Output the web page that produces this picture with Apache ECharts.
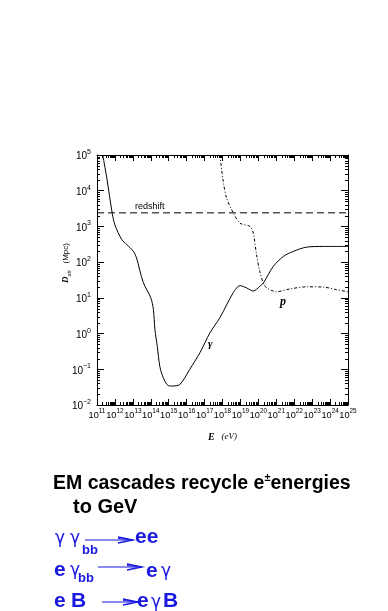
<!DOCTYPE html>
<html>
<head>
<meta charset="utf-8">
<script src="https://cdn.jsdelivr.net/npm/echarts@6/dist/echarts.min.js"></script>
<style>
html,body{margin:0;padding:0;background:#fff;}
#c{width:388px;height:611px;}
</style>
</head>
<body>
<div id="c"></div>
<script>
// ---- data (E in eV, D_att in Mpc) ----
const gammaE = [2.1e11, 3.5e11, 7.1e11, 1.0e12, 2.4e12, 4.6e12, 1.07e13, 1.6e13, 3.8e13, 1.0e14, 1.4e14, 1.7e14, 2.3e14, 3.2e14, 5.0e14, 9.5e14, 1.8e15, 4.3e15, 1.5e16, 5.5e16, 2.0e17, 7.2e17, 4.0e18, 9.5e18, 2.2e19, 5.2e19, 1.2e20, 1.9e20, 6.8e20, 2.5e21, 8.9e21, 4.9e22, 4.2e23, 1.0e25];
const gammaD = [1.0e5, 2.3e4, 2.3e3, 1.1e3, 430, 310, 200, 132, 27, 10, 4.7, 1.3, 0.44, 0.12, 0.058, 0.035, 0.034, 0.038, 0.1, 0.29, 1.05, 2.8, 14, 22, 19, 15.5, 21, 26, 76, 145, 200, 263, 275, 275];
const protonE = [7.2e17, 1.1e18, 1.7e18, 4.1e18, 9.5e18, 3.4e19, 5.2e19, 7.9e19, 1.2e20, 1.9e20, 2.9e20, 6.8e20, 1.0e21, 5.8e21, 5.0e22, 4.2e23, 2.3e24, 1.0e25];
const protonD = [1.0e5, 1.8e4, 6.2e3, 2.34e3, 1.23e3, 1.0e3, 660, 162, 55, 26, 19, 15.5, 14.8, 17.8, 20.4, 20, 17, 14.8];
const redshiftE = [1e11, 1e25];
const redshiftD = [2400, 2400];
const xRange = [1e11, 1e25];
const yRange = [1e-2, 1e5];
const xDecades = [11,12,13,14,15,16,17,18,19,20,21,22,23,24];
const yDecades = [-2,-1,0,1,2,3,4];
const minorMult = [2,3,4,5,6,7,8,9];

const xMinor = [];
xDecades.forEach(n => minorMult.forEach(m => xMinor.push([m * Math.pow(10, n), 1])));
const yMinor = [];
yDecades.forEach(n => minorMult.forEach(m => yMinor.push([1e12, m * Math.pow(10, n)])));

const FONT = 'Liberation Sans, Arial, sans-serif';
function supLabel(v) {
  const e = Math.round(Math.log10(v));
  const s = e < 0 ? '\u2212' + (-e) : String(e);
  return '{b|10}{s|' + s + '}';
}
const richTickY = {
  b: {fontSize: 10, fontFamily: FONT, color: '#000', verticalAlign: 'bottom', lineHeight: 13},
  s: {fontSize: 7, fontFamily: FONT, color: '#000', verticalAlign: 'top', lineHeight: 13}
};
const richTickX = {
  b: {fontSize: 9.2, fontFamily: FONT, color: '#000', verticalAlign: 'bottom', lineHeight: 12},
  s: {fontSize: 6.4, fontFamily: FONT, color: '#000', verticalAlign: 'top', lineHeight: 12}
};

const chart = echarts.init(document.getElementById('c'));
const baseX = {
  type: 'log', logBase: 10, min: xRange[0], max: xRange[1], interval: 1, splitNumber: 14,
  splitLine: {show: false},
  axisLine: {show: true, lineStyle: {color: '#000', width: 1}},
  axisTick: {show: true, inside: true, length: 6, interval: 0, lineStyle: {color: '#000'}},
  minorTick: {show: false}
};
const baseY = {
  type: 'log', logBase: 10, min: yRange[0], max: yRange[1], interval: 1, splitNumber: 7,
  splitLine: {show: false},
  axisLine: {show: true, lineStyle: {color: '#000', width: 1}},
  axisTick: {show: true, inside: true, length: 7, interval: 0, lineStyle: {color: '#000'}},
  minorTick: {show: false}
};

function minorX(params, api) {
  const v = api.value(0);
  const b = api.coord([v, yRange[0]]);
  const t = api.coord([v, yRange[1]]);
  const x = Math.round(b[0]) + 0.5;
  return {type: 'group', children: [
    {type: 'line', shape: {x1: x, y1: b[1], x2: x, y2: b[1] - 3}, style: {stroke: '#000', lineWidth: 1}},
    {type: 'line', shape: {x1: x, y1: t[1], x2: x, y2: t[1] + 3}, style: {stroke: '#000', lineWidth: 1}}
  ]};
}
function minorY(params, api) {
  const v = api.value(1);
  const l = api.coord([xRange[0], v]);
  const r = api.coord([xRange[1], v]);
  const y = Math.round(l[1]) + 0.5;
  return {type: 'group', children: [
    {type: 'line', shape: {x1: l[0], y1: y, x2: l[0] + 3, y2: y}, style: {stroke: '#000', lineWidth: 1}},
    {type: 'line', shape: {x1: r[0], y1: y, x2: r[0] - 3, y2: y}, style: {stroke: '#000', lineWidth: 1}}
  ]};
}

const BLUE = '#1818e0';
function arrow(x1, x2, y, head) {
  return [
    {type: 'line', shape: {x1: x1, y1: y, x2: x2, y2: y}, style: {stroke: BLUE, lineWidth: 1.2}},
    {type: 'polyline', shape: {points: [[x2 - head, y - 3], [x2, y], [x2 - head, y + 3]]}, style: {stroke: BLUE, lineWidth: 1.3, fill: null}},
    {type: 'line', shape: {x1: x2 - head, y1: y - 1.5, x2: x2, y2: y}, style: {stroke: BLUE, lineWidth: 1}}
  ];
}
const greek = {fontSize: 17, fontFamily: 'DejaVu Sans, sans-serif', fill: BLUE};
const boldB = {fontSize: 21, fontWeight: 'bold', fontFamily: FONT, fill: BLUE};
const subB = {fontSize: 13, fontWeight: 'bold', fontFamily: FONT, fill: BLUE};

chart.setOption({
  animation: false,
  backgroundColor: '#fff',
  grid: {left: 97, right: 40, top: 155, bottom: 206},
  xAxis: [
    Object.assign({}, baseX, {
      position: 'bottom',
      name: '{e|E}  {u|(eV)}', nameLocation: 'middle', nameGap: 26,
      nameTextStyle: {rich: {
        e: {fontSize: 10, fontWeight: 'bold', fontStyle: 'italic', fontFamily: 'Liberation Serif, serif', color: '#000'},
        u: {fontSize: 9, fontStyle: 'italic', fontFamily: 'Liberation Serif, serif', color: '#000'}
      }},
      axisLabel: {show: true, margin: 3, interval: 0, hideOverlap: false, showMinLabel: true, showMaxLabel: true, formatter: supLabel, rich: richTickX}
    }),
    Object.assign({}, baseX, {position: 'top', axisLabel: {show: false}})
  ],
  yAxis: [
    Object.assign({}, baseY, {
      position: 'left',
      axisLabel: {show: true, margin: 6, interval: 0, showMinLabel: true, showMaxLabel: true, formatter: supLabel, rich: richTickY}
    }),
    Object.assign({}, baseY, {position: 'right', axisLabel: {show: false}})
  ],
  series: [
    {type: 'line', name: 'gamma', xAxisIndex: 0, yAxisIndex: 0, showSymbol: false, smooth: 0.3,
     data: gammaE.map((e, i) => [e, gammaD[i]]), lineStyle: {color: '#000', width: 1}},
    {type: 'line', name: 'proton', xAxisIndex: 0, yAxisIndex: 0, showSymbol: false, smooth: 0.3,
     data: protonE.map((e, i) => [e, protonD[i]]), lineStyle: {color: '#000', width: 1, type: [3, 2, 1, 2]}},
    {type: 'line', name: 'redshift', xAxisIndex: 0, yAxisIndex: 0, showSymbol: false,
     data: redshiftE.map((e, i) => [e, redshiftD[i]]), lineStyle: {color: '#000', width: 1, type: [7, 4]}},
    {type: 'custom', xAxisIndex: 0, yAxisIndex: 0, renderItem: minorX, data: xMinor, clip: false, silent: true},
    {type: 'custom', xAxisIndex: 0, yAxisIndex: 0, renderItem: minorY, data: yMinor, clip: false, silent: true}
  ],
  graphic: [
    {type: 'text', x: 66, y: 263, rotation: Math.PI / 2, style: {
      text: '{d|D}{a|att}  {u|(Mpc)}', align: 'center', verticalAlign: 'middle',
      rich: {
        d: {fontSize: 9, fontWeight: 'bold', fontStyle: 'italic', fontFamily: 'Liberation Serif, serif', fill: '#000'},
        a: {fontSize: 6, fontStyle: 'italic', fontFamily: 'Liberation Serif, serif', fill: '#000', verticalAlign: 'bottom'},
        u: {fontSize: 8, fontFamily: FONT, fill: '#000'}
      }}},
    {type: 'text', left: 135, top: 202, style: {text: 'redshift', fontSize: 9, fontFamily: FONT, fill: '#000'}},
    {type: 'text', left: 208, top: 339, style: {text: 'γ', fontSize: 11, fontStyle: 'italic', fontWeight: 'bold', fontFamily: 'Liberation Serif, serif', fill: '#000'}},
    {type: 'text', left: 280, top: 296, style: {text: 'p', fontSize: 12, fontStyle: 'italic', fontWeight: 'bold', fontFamily: 'Liberation Serif, serif', fill: '#000'}},
    {type: 'text', left: 53, top: 472, style: {
      text: '{t|EM cascades recycle e}{s|±}{t|energies}',
      rich: {
        t: {fontSize: 19.5, fontWeight: 'bold', fontFamily: FONT, fill: '#000', verticalAlign: 'bottom', lineHeight: 22},
        s: {fontSize: 11, fontWeight: 'bold', fontFamily: FONT, fill: '#000', verticalAlign: 'top', lineHeight: 22}
      }}},
    {type: 'text', left: 73, top: 497, style: {text: 'to GeV', fontSize: 20, fontWeight: 'bold', fontFamily: FONT, fill: '#000'}},
    // row 1
    {type: 'text', left: 55, top: 530, style: Object.assign({text: 'γ'}, greek)},
    {type: 'text', left: 70, top: 530, style: Object.assign({text: 'γ'}, greek)},
    {type: 'text', left: 82, top: 544, style: Object.assign({text: 'bb'}, subB)},
    ...arrow(85, 133, 540, 15),
    {type: 'text', left: 135, top: 527, style: Object.assign({text: 'ee'}, boldB)},
    // row 2
    {type: 'text', left: 54, top: 560, style: Object.assign({text: 'e'}, boldB)},
    {type: 'text', left: 70, top: 562, style: Object.assign({text: 'γ'}, greek)},
    {type: 'text', left: 78, top: 572, style: Object.assign({text: 'bb'}, subB)},
    ...arrow(98, 142, 567, 15),
    {type: 'text', left: 146, top: 561, style: Object.assign({text: 'e'}, boldB)},
    {type: 'text', left: 161, top: 563, style: Object.assign({text: 'γ'}, greek)},
    // row 3
    {type: 'text', left: 54, top: 591, style: Object.assign({text: 'e'}, boldB)},
    {type: 'text', left: 71, top: 591, style: Object.assign({text: 'B'}, boldB)},
    ...arrow(102, 138, 602, 15),
    {type: 'text', left: 137, top: 591, style: Object.assign({text: 'e'}, boldB)},
    {type: 'text', left: 151, top: 594, style: Object.assign({text: 'γ'}, greek)},
    {type: 'text', left: 163, top: 591, style: Object.assign({text: 'B'}, boldB)}
  ]
});
</script>
</body>
</html>
